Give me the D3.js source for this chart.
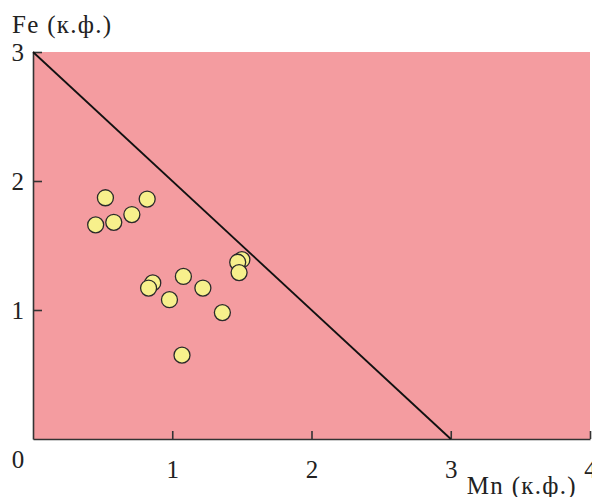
<!DOCTYPE html>
<html lang="ru">
	<head>
		<meta charset="utf-8">
		<title>Fe - Mn</title>
		<script type="text/javascript" src="https://cdn.jsdelivr.net/npm/d3@7"></script>
		<style>
			body { margin: 0; background: #fff; }
			text { font-family: "Liberation Serif", "DejaVu Serif", serif; fill: #222; }
		</style>
	</head>
	<body>
		<script type="text/javascript">
			//Data: Mn and Fe (formula units)
			var mn = [0.45, 0.52, 0.58, 0.71, 0.82, 1.50, 1.47, 1.48, 0.86, 0.83, 1.08, 1.22, 0.98, 1.36, 1.07];
			var fe = [1.66, 1.87, 1.68, 1.74, 1.86, 1.39, 1.37, 1.29, 1.21, 1.17, 1.26, 1.17, 1.08, 0.98, 0.65];
			var xTicks = [1, 2, 3, 4];
			var yTicks = [1, 2, 3];
			var boundary = [[0, 3], [3, 0]];

			var w = 592;
			var h = 497;
			//plot edges (don't use "top" - window.top is read-only)
			var plotL = 33, plotR = 590, plotT = 52, plotB = 439;

			var svg = d3.select("body")
						.append("svg")
						.attr("width", w)
						.attr("height", h);

			var x = d3.scaleLinear().domain([0, 4]).range([plotL, plotR]);
			var y = d3.scaleLinear().domain([0, 3]).range([plotB, plotT]);

			//Background of the field
			svg.append("rect")
				.attr("x", x(0))
				.attr("y", y(3))
				.attr("width", x(4) - x(0))
				.attr("height", y(0) - y(3))
				.attr("fill", "#f49ca0");

			//Axes, ticks pointing inside
			var xAxis = d3.axisBottom(x)
				.tickValues(xTicks)
				.tickFormat(d3.format("d"))
				.tickSizeInner(-8)
				.tickSizeOuter(0)
				.tickPadding(21);

			var yAxis = d3.axisLeft(y)
				.tickValues(yTicks)
				.tickFormat(d3.format("d"))
				.tickSizeInner(-9)
				.tickSizeOuter(0)
				.tickPadding(9);

			var gx = svg.append("g")
				.attr("transform", "translate(0," + y(0) + ")")
				.call(xAxis);

			var gy = svg.append("g")
				.attr("transform", "translate(" + x(0) + ",0)")
				.call(yAxis);

			[gx, gy].forEach(function(g) {
				g.selectAll("path, line").attr("stroke", "#333").attr("stroke-width", 1.6);
				g.selectAll("text")
					.attr("font-size", "25px")
					.attr("font-family", "Liberation Serif, serif")
					.attr("fill", "#222");
			});
			gy.selectAll("text").attr("dy", "0.35em");

			//Shared origin label
			svg.append("text")
				.attr("x", x(0) - 15)
				.attr("y", y(0) + 29)
				.attr("text-anchor", "middle")
				.attr("font-size", "25px")
				.text("0");

			//Line Mn + Fe = 3
			svg.append("path")
				.datum(boundary)
				.attr("d", d3.line()
					.x(function(d) { return x(d[0]); })
					.y(function(d) { return y(d[1]); }))
				.attr("fill", "none")
				.attr("stroke", "#111")
				.attr("stroke-width", 1.8);

			//Points
			svg.selectAll("circle")
				.data(mn)
				.enter()
				.append("circle")
				.attr("cx", function(d) { return x(d); })
				.attr("cy", function(d, i) { return y(fe[i]); })
				.attr("r", 8)
				.attr("fill", "#f7f08c")
				.attr("stroke", "#2a2a2a")
				.attr("stroke-width", 1.3);

			//Axis titles
			svg.append("text")
				.attr("x", 12)
				.attr("y", 33)
				.attr("font-size", "25px")
				.attr("letter-spacing", "1.3px")
				.text("Fe (к.ф.)");

			svg.append("text")
				.attr("x", 577)
				.attr("y", 494)
				.attr("text-anchor", "end")
				.attr("font-size", "25px")
				.attr("letter-spacing", "1.3px")
				.text("Mn (к.ф.)");
		</script>
	</body>
</html>
